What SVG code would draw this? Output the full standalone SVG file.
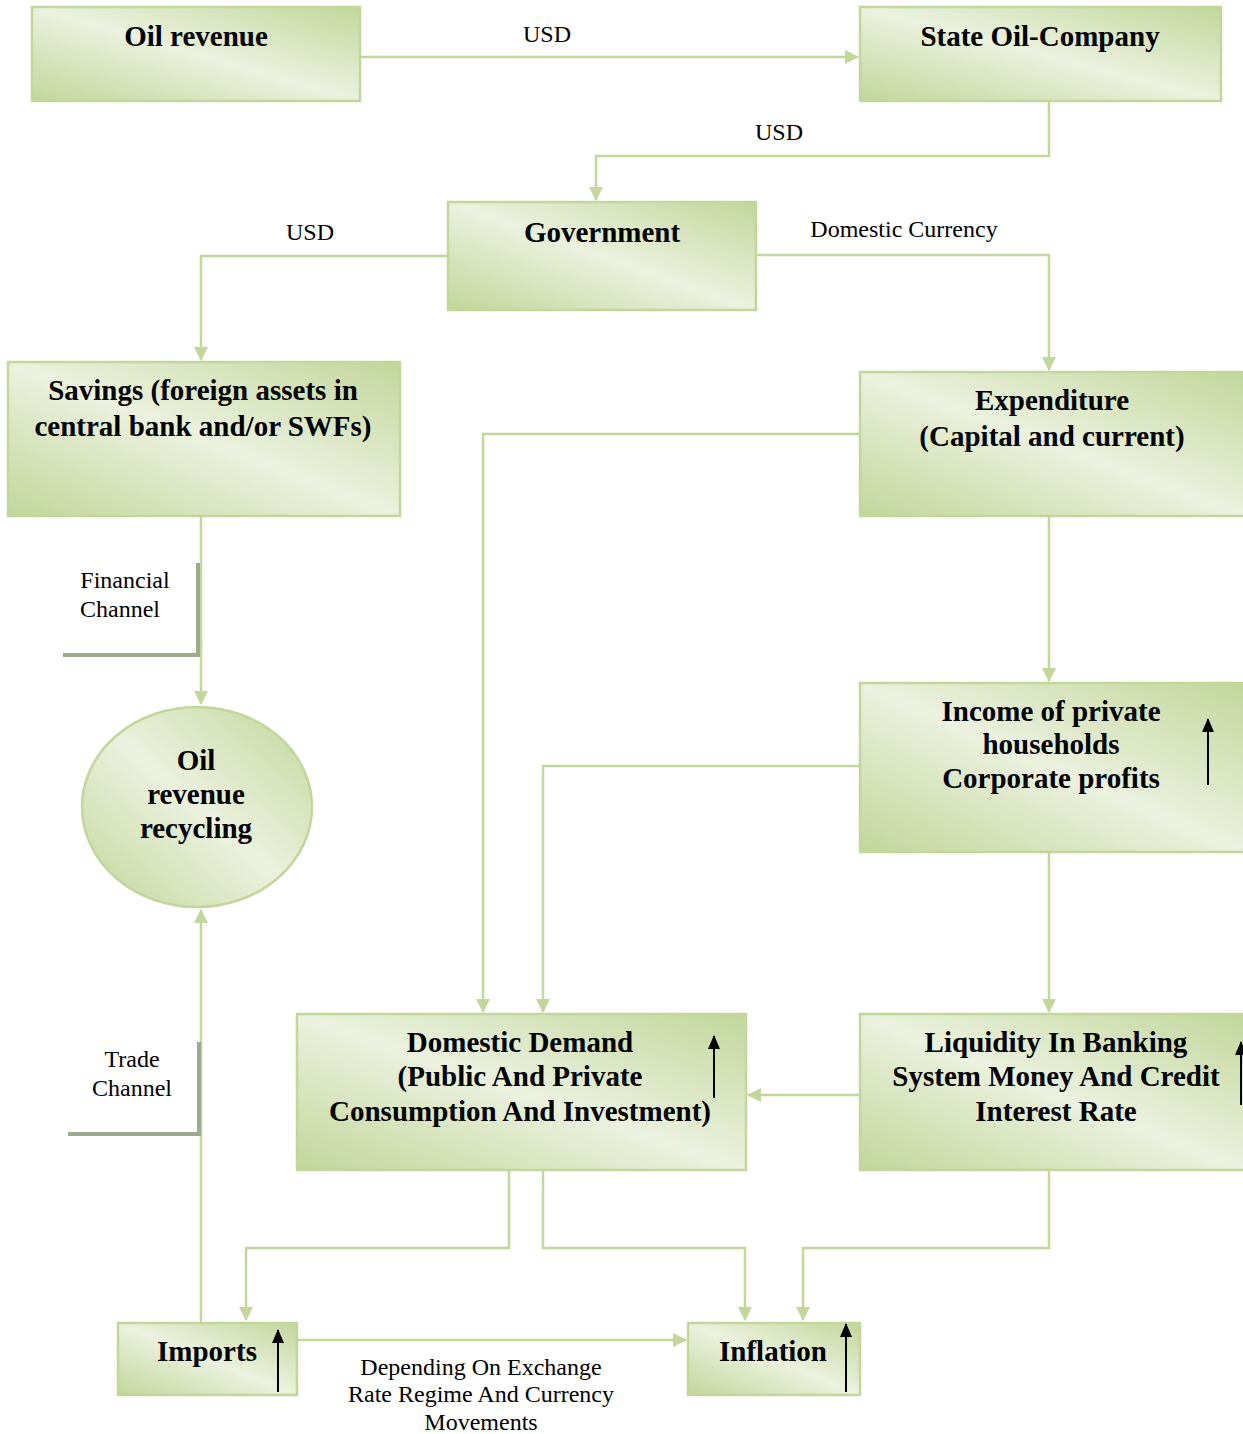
<svg xmlns="http://www.w3.org/2000/svg" width="1243" height="1434" viewBox="0 0 1243 1434">
<defs>
<linearGradient id="g" x1="1" y1="0" x2="0" y2="1">
<stop offset="0" stop-color="#c2d69a"/>
<stop offset="0.5" stop-color="#ebf1de"/>
<stop offset="1" stop-color="#c2d69a"/>
</linearGradient>
<marker id="ah" viewBox="0 0 14 14" refX="13" refY="7" markerWidth="14" markerHeight="14" markerUnits="userSpaceOnUse" orient="auto">
<path d="M0,0 L14,7 L0,14 Z" fill="#c3d69b"/>
</marker>
<marker id="bh" viewBox="0 0 14 12" refX="13" refY="6" markerWidth="14" markerHeight="12" markerUnits="userSpaceOnUse" orient="auto">
<path d="M0,0 L14,6 L0,12 Z" fill="#000"/>
</marker>
</defs>
<style>
.box{fill:url(#g);stroke:#c3d69b;stroke-width:2.5}
.t{font-family:"Liberation Serif","Times New Roman",serif;font-weight:bold;font-size:29px;fill:#000;text-anchor:middle}
.l{font-family:"Liberation Serif","Times New Roman",serif;font-size:24px;fill:#000;text-anchor:middle}
.c{fill:none;stroke:#c3d69b;stroke-width:2.5;marker-end:url(#ah)}
.up{stroke:#000;stroke-width:2;marker-end:url(#bh)}
.ch{fill:none;stroke:#9eaa8e;stroke-width:4}
</style>
<g id="connectors">
<path class="c" d="M360,57 H858"/>
<path class="c" d="M1049,101 V156 H596 V200"/>
<path class="c" d="M448,256 H201 V360"/>
<path class="c" d="M756,255 H1049 V370"/>
<path class="c" d="M201,516 V704"/>
<path class="c" d="M1049,516 V681"/>
<path class="c" d="M860,434 H483 V1012"/>
<path class="c" d="M860,766 H543 V1012"/>
<path class="c" d="M1049,852 V1012"/>
<path class="c" d="M860,1095 H748"/>
<path class="c" d="M201,1322 V910"/>
<path class="c" d="M509,1170 V1248 H246 V1320"/>
<path class="c" d="M543,1170 V1248 H745 V1320"/>
<path class="c" d="M1049,1170 V1248 H803 V1320"/>
<path class="c" d="M297,1340 H686"/>
</g>
<g id="labels">
<text class="l" x="547" y="42">USD</text>
<text class="l" x="779" y="140">USD</text>
<text class="l" x="310" y="240">USD</text>
<text class="l" x="904" y="237">Domestic Currency</text>
<g id="financial-channel">
<path class="ch" d="M198,563 V655 H63"/>
<text class="l" x="125" y="588">Financial</text>
<text class="l" x="120" y="617">Channel</text>
</g>
<g id="trade-channel">
<path class="ch" d="M199,1042 V1134 H68"/>
<text class="l" x="132" y="1067">Trade</text>
<text class="l" x="132" y="1096">Channel</text>
</g>
<text class="l" x="481" y="1375">Depending On Exchange</text>
<text class="l" x="481" y="1402">Rate Regime And Currency</text>
<text class="l" x="481" y="1430">Movements</text>
</g>
<g id="oil-revenue">
<rect class="box" x="32" y="7" width="328" height="94"/>
<text class="t" x="196" y="46">Oil revenue</text>
</g>
<g id="state-oil-company">
<rect class="box" x="860" y="7" width="361" height="94"/>
<text class="t" x="1040" y="46">State Oil-Company</text>
</g>
<g id="government">
<rect class="box" x="448" y="202" width="308" height="108"/>
<text class="t" x="602" y="242">Government</text>
</g>
<g id="savings">
<rect class="box" x="8" y="362" width="392" height="154"/>
<text class="t" x="203" y="400">Savings (foreign assets in</text>
<text class="t" x="203" y="436">central bank and/or SWFs)</text>
</g>
<g id="expenditure">
<rect class="box" x="860" y="372" width="385" height="144"/>
<text class="t" x="1052" y="410">Expenditure</text>
<text class="t" x="1052" y="446">(Capital and current)</text>
</g>
<g id="oil-revenue-recycling">
<ellipse class="box" cx="197" cy="807" rx="115" ry="100"/>
<text class="t" x="196" y="770">Oil</text>
<text class="t" x="196" y="804">revenue</text>
<text class="t" x="196" y="838">recycling</text>
</g>
<g id="income">
<rect class="box" x="860" y="683" width="385" height="169"/>
<text class="t" x="1051" y="721">Income of private</text>
<text class="t" x="1051" y="754">households</text>
<text class="t" x="1051" y="788">Corporate profits</text>
<line class="up" x1="1208" y1="785" x2="1208" y2="719"/>
</g>
<g id="domestic-demand">
<rect class="box" x="297" y="1014" width="449" height="156"/>
<text class="t" x="520" y="1052">Domestic Demand</text>
<text class="t" x="520" y="1086">(Public And Private</text>
<text class="t" x="520" y="1121">Consumption And Investment)</text>
<line class="up" x1="714" y1="1098" x2="714" y2="1036"/>
</g>
<g id="liquidity">
<rect class="box" x="860" y="1014" width="385" height="156"/>
<text class="t" x="1056" y="1052">Liquidity In Banking</text>
<text class="t" x="1056" y="1086">System Money And Credit</text>
<text class="t" x="1056" y="1121">Interest Rate</text>
<line class="up" x1="1241" y1="1105" x2="1241" y2="1042"/>
</g>
<g id="imports">
<rect class="box" x="118" y="1323" width="179" height="72"/>
<text class="t" x="207" y="1361">Imports</text>
<line class="up" x1="278" y1="1392" x2="278" y2="1330"/>
</g>
<g id="inflation">
<rect class="box" x="688" y="1323" width="172" height="72"/>
<text class="t" x="773" y="1361">Inflation</text>
<line class="up" x1="846" y1="1392" x2="846" y2="1324"/>
</g>
</svg>
